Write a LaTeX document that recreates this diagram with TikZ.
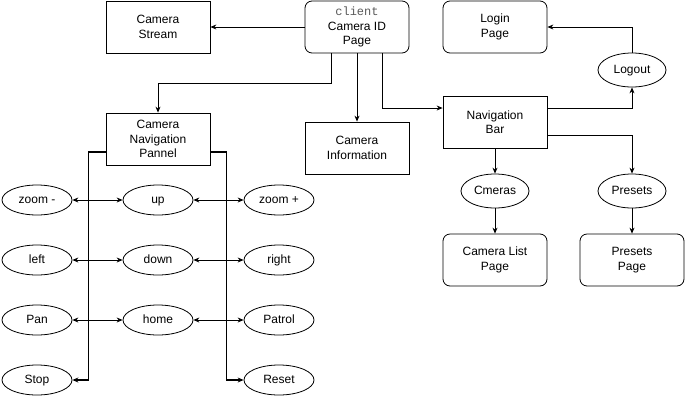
\documentclass[tikz,border=0pt]{standalone}
\usepackage{fontspec}
\setmainfont{Liberation Sans}
\setmonofont{Liberation Mono}
\usetikzlibrary{shapes.geometric,arrows.meta}
\definecolor{clientgray}{RGB}{90,90,90}
\begin{document}
\begin{tikzpicture}[x=1pt,y=-1pt,>={Stealth[length=6pt,width=5pt]},line width=0.8pt]

    \tikzset{boxstyle/.style={draw,rectangle,minimum width=104pt,minimum height=52pt,inner sep=0pt,align=center,font=\fontsize{12}{14.4}\selectfont}}
    \tikzset{roundstyle/.style={boxstyle,rounded corners=7pt}}
    \tikzset{ellstyle/.style={draw,ellipse,minimum width=70pt,minimum height=30pt,inner sep=0pt,text height=8.6pt,text depth=2.6pt,font=\fontsize{12}{14.4}\selectfont}}
    \tikzset{menustyle/.style={ellstyle,minimum width=68pt,minimum height=34pt}}

    \useasboundingbox (0,0) rectangle (686,400);

    \node[boxstyle] (stream) at (158,27) {Camera\\Stream};
    \node[roundstyle] (idpage) at (357,27) {{\ttfamily\color{clientgray}client}\\Camera ID\\Page};
    \node[roundstyle] (login) at (495,27) {Login\\Page};
    \node[boxstyle] (panel) at (158,139) {Camera\\Navigation\\Pannel};
    \node[boxstyle] (info) at (357,148) {Camera\\Information};
    \node[boxstyle] (navbar) at (495,122) {Navigation\\Bar};
    \node[menustyle] (logout) at (632,70) {Logout};
    \node[menustyle] (cmeras) at (495,191) {Cmeras};
    \node[menustyle] (presets) at (632,191) {Presets};
    \node[roundstyle] (listpage) at (495,260) {Camera List\\Page};
    \node[roundstyle] (presetspage) at (632,260) {Presets\\Page};

    % panel buttons
    \node[ellstyle] (zmin) at ( 37,200) {zoom -};
    \node[ellstyle] (up) at (158,200) {up};
    \node[ellstyle] (zplus) at (279,200) {zoom +};
    \node[ellstyle] (left) at ( 37,260) {left};
    \node[ellstyle] (down) at (158,260) {down};
    \node[ellstyle] (right) at (279,260) {right};
    \node[ellstyle] (pan) at ( 37,320) {Pan};
    \node[ellstyle] (home) at (158,320) {home};
    \node[ellstyle] (patrol) at (279,320) {Patrol};
    \node[ellstyle] (stop) at ( 37,380) {Stop};
    \node[ellstyle] (reset) at (279,380) {Reset};

    \draw[->] (idpage) -- (stream);
    \draw[->] ([xshift=-26pt]idpage.south) -- ++(0,30) -| (panel.north);
    \draw[->] (idpage) -- (info);
    \draw[->] ([xshift=25pt]idpage.south) |- ([yshift=14pt]navbar.west);

    \draw[->] ([yshift=14pt]navbar.east) -| (logout.south);
    \draw[->] (logout.north) |- (login.east);
    \draw[->] ([yshift=-13pt]navbar.east) -| (presets.north);
    \draw[->] (navbar) -- (cmeras);
    \draw[->] (cmeras) -- (listpage);
    \draw[->] (presets) -- (presetspage);

    \begin{scope}[line width=1.5pt]
        \draw[->] ([yshift=-13pt]panel.west) -| ([xshift=16pt]stop.east) -- (stop.east);
        \draw[->] ([yshift=-13pt]panel.east) -| ([xshift=-17pt]reset.west) -- (reset.west);
    \end{scope}

    \draw[<->] (zmin) -- (up);
    \draw[<->] (up) -- (zplus);
    \draw[<->] (left) -- (down);
    \draw[<->] (down) -- (right);
    \draw[<->] (pan) -- (home);
    \draw[<->] (home) -- (patrol);

\end{tikzpicture}
\end{document}
